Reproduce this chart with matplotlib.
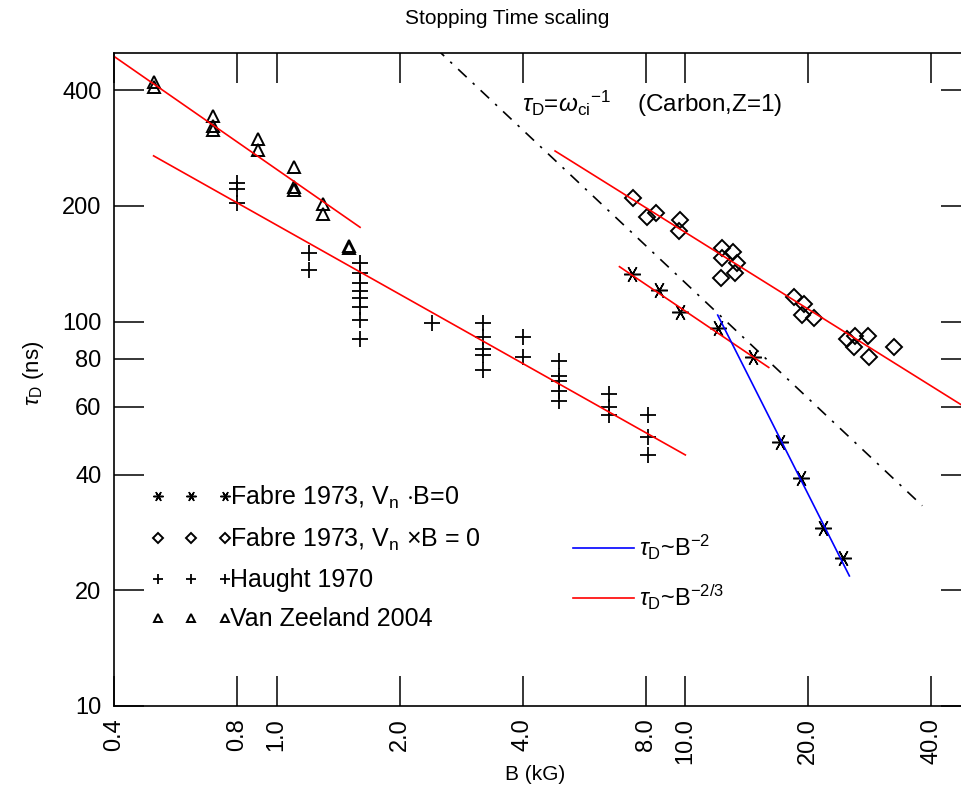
import matplotlib
matplotlib.use("Agg")
import matplotlib.pyplot as plt
from matplotlib.ticker import FixedLocator, NullLocator, FixedFormatter

plt.rcParams['font.family'] = ['Liberation Sans', 'DejaVu Sans']
plt.rcParams['mathtext.fontset'] = 'custom'
plt.rcParams['mathtext.rm'] = 'Liberation Sans'
plt.rcParams['mathtext.it'] = 'Liberation Sans:italic'
plt.rcParams['mathtext.bf'] = 'Liberation Sans:bold'

# Fabre 1973, Vn . B = 0  (stars)
b_star = [7.4, 8.6, 9.7, 12.0, 14.6, 17.0, 19.2, 21.7, 24.3]
t_star = [133, 121, 106, 96, 81, 48.7, 39.2, 29.1, 24.3]

# Fabre 1973, Vn x B = 0  (diamonds)
b_diam = [7.46, 8.06, 8.49, 9.71, 9.66, 12.3, 13.1, 12.3, 13.4, 13.2, 12.2,
          18.4, 19.5, 19.3, 20.7, 24.9, 26.0, 28.0, 25.9, 28.2, 32.4]
t_diam = [210, 187, 192, 184, 172, 155, 152, 146, 142, 134, 130,
          116, 111, 104, 102, 90, 92, 92, 86, 81, 86]

# Haught 1970  (plus)
b_plus = [0.8, 0.8, 0.8, 1.2, 1.2,
          1.6, 1.6, 1.6, 1.6, 1.6, 1.6, 1.6, 1.6,
          2.4, 3.2, 3.2, 3.2, 3.2, 3.2, 4.0, 4.0,
          4.9, 4.9, 4.9, 4.9, 4.9, 6.5, 6.5, 6.5, 8.1, 8.1, 8.1]
t_plus = [230, 222, 203, 151, 136,
          142, 134, 126, 120, 115, 109, 101, 90,
          99, 99, 91, 85, 82, 75, 91, 81,
          79, 72, 70, 66, 62, 65, 60, 57, 57, 50, 45]

# Van Zeeland 2004  (triangles)
b_tri = [0.5, 0.5, 0.7, 0.7, 0.7, 0.9, 0.9, 1.1, 1.1, 1.1, 1.3, 1.3, 1.5, 1.5]
t_tri = [421, 407, 342, 322, 316, 298, 280, 253, 224, 220, 202, 191, 157, 155]

# fitted power laws (end points)
fit_vz_b, fit_vz_t = [0.4, 1.6], [490, 176]
fit_h_b, fit_h_t = [0.5, 10.0], [270, 45]
fit_st_b, fit_st_t = [6.9, 16.0], [139, 76]
fit_di_b, fit_di_t = [4.8, 50.0], [278, 58.6]
fit_b2_b, fit_b2_t = [12.0, 25.2], [104, 21.8]
wci_b, wci_t = [2.45, 38.0], [515, 33.2]

xticks = [0.4, 0.8, 1.0, 2.0, 4.0, 8.0, 10.0, 20.0, 40.0]
yticks = [10, 20, 40, 60, 80, 100, 200, 400]

fig = plt.figure(figsize=(9.61, 7.97), dpi=100)
ax = fig.add_axes([114/961, 91/797, 857/961, 653/797])
ax.set_xscale('log')
ax.set_yscale('log')
ax.set_xlim(0.4, 50)
ax.set_ylim(10, 500)

star = (6, 2, 30)
h1, = ax.plot(b_star, t_star, ls='none', marker=star, ms=12, mec='k', mew=1.1,
              label=r'Fabre 1973, V$_{\rm n}$ $\cdot$B=0')
h2, = ax.plot(b_diam, t_diam, ls='none', marker='D', ms=8, mfc='none', mec='k', mew=1.4,
              label=r'Fabre 1973, V$_{\rm n}$ $\times$B = 0')
h3, = ax.plot(b_plus, t_plus, ls='none', marker='+', ms=11, mec='k', mew=1.3,
              label='Haught 1970')
h4, = ax.plot(b_tri, t_tri, ls='none', marker='^', ms=9, mfc='none', mec='k', mew=1.4,
              label='Van Zeeland 2004')

ax.plot(fit_vz_b, fit_vz_t, color='red', lw=1.2)
ax.plot(fit_h_b, fit_h_t, color='red', lw=1.2)
ax.plot(fit_st_b, fit_st_t, color='red', lw=1.2)
ax.plot(fit_di_b, fit_di_t, color='red', lw=1.2)
ax.plot(fit_b2_b, fit_b2_t, color='blue', lw=1.2)
ax.plot(wci_b, wci_t, color='k', lw=1.2, ls=(0, (7, 5, 1.5, 5)))

ax.xaxis.set_major_locator(FixedLocator(xticks))
ax.xaxis.set_major_formatter(FixedFormatter(['%.1f' % v for v in xticks]))
ax.xaxis.set_minor_locator(NullLocator())
ax.yaxis.set_major_locator(FixedLocator(yticks))
ax.yaxis.set_major_formatter(FixedFormatter([str(v) for v in yticks]))
ax.yaxis.set_minor_locator(NullLocator())
ax.tick_params(which='both', direction='in', length=21.6, width=1.1,
               top=True, right=True, labelsize=17, pad=9)
plt.setp(ax.get_xticklabels(), rotation=90)
for s in ax.spines.values():
    s.set_linewidth(1.2)

ax.set_xlabel('B (kG)', fontsize=15, va='center')
ax.xaxis.set_label_coords((535 - 114) / 857, -(775 - 706) / 653)
ax.set_ylabel(r'$\tau_{\rm D}$ (ns)', fontsize=16, va='center')
ax.yaxis.set_label_coords((33 - 114) / 857, (706 - 373) / 653)
fig.text(507/961, 1 - 18/797, 'Stopping Time scaling', fontsize=15,
         ha='center', va='center')

fig.text(522/961, 1 - 112/797,
         r'$\tau_{\rm D}$=$\omega_{\rm ci}$$^{-1}$    (Carbon,Z=1)',
         fontsize=17.5, ha='left', va='baseline')

leg1 = ax.legend(handles=[h1, h2, h3, h4], loc='upper left', frameon=False,
                 numpoints=3, markerscale=0.6, handlelength=3.3, handletextpad=-0.1,
                 fontsize=18, labelspacing=0.6, borderpad=0, borderaxespad=0,
                 bbox_to_anchor=(150/961, 1 - 484/797), bbox_transform=fig.transFigure)
ax.add_artist(leg1)

lb, = ax.plot([], [], color='blue', lw=1.2, label=r'$\tau_{\rm D}$~B$^{-2}$')
lr, = ax.plot([], [], color='red', lw=1.2, label=r'$\tau_{\rm D}$~B$^{-2/3}$')
ax.legend(handles=[lb, lr], loc='upper left', frameon=False, handlelength=2.6,
          handletextpad=0.2, fontsize=17, labelspacing=0.88, borderpad=0,
          borderaxespad=0,
          bbox_to_anchor=(573/961, 1 - 533/797), bbox_transform=fig.transFigure)

fig.savefig('out.png', dpi=100)
